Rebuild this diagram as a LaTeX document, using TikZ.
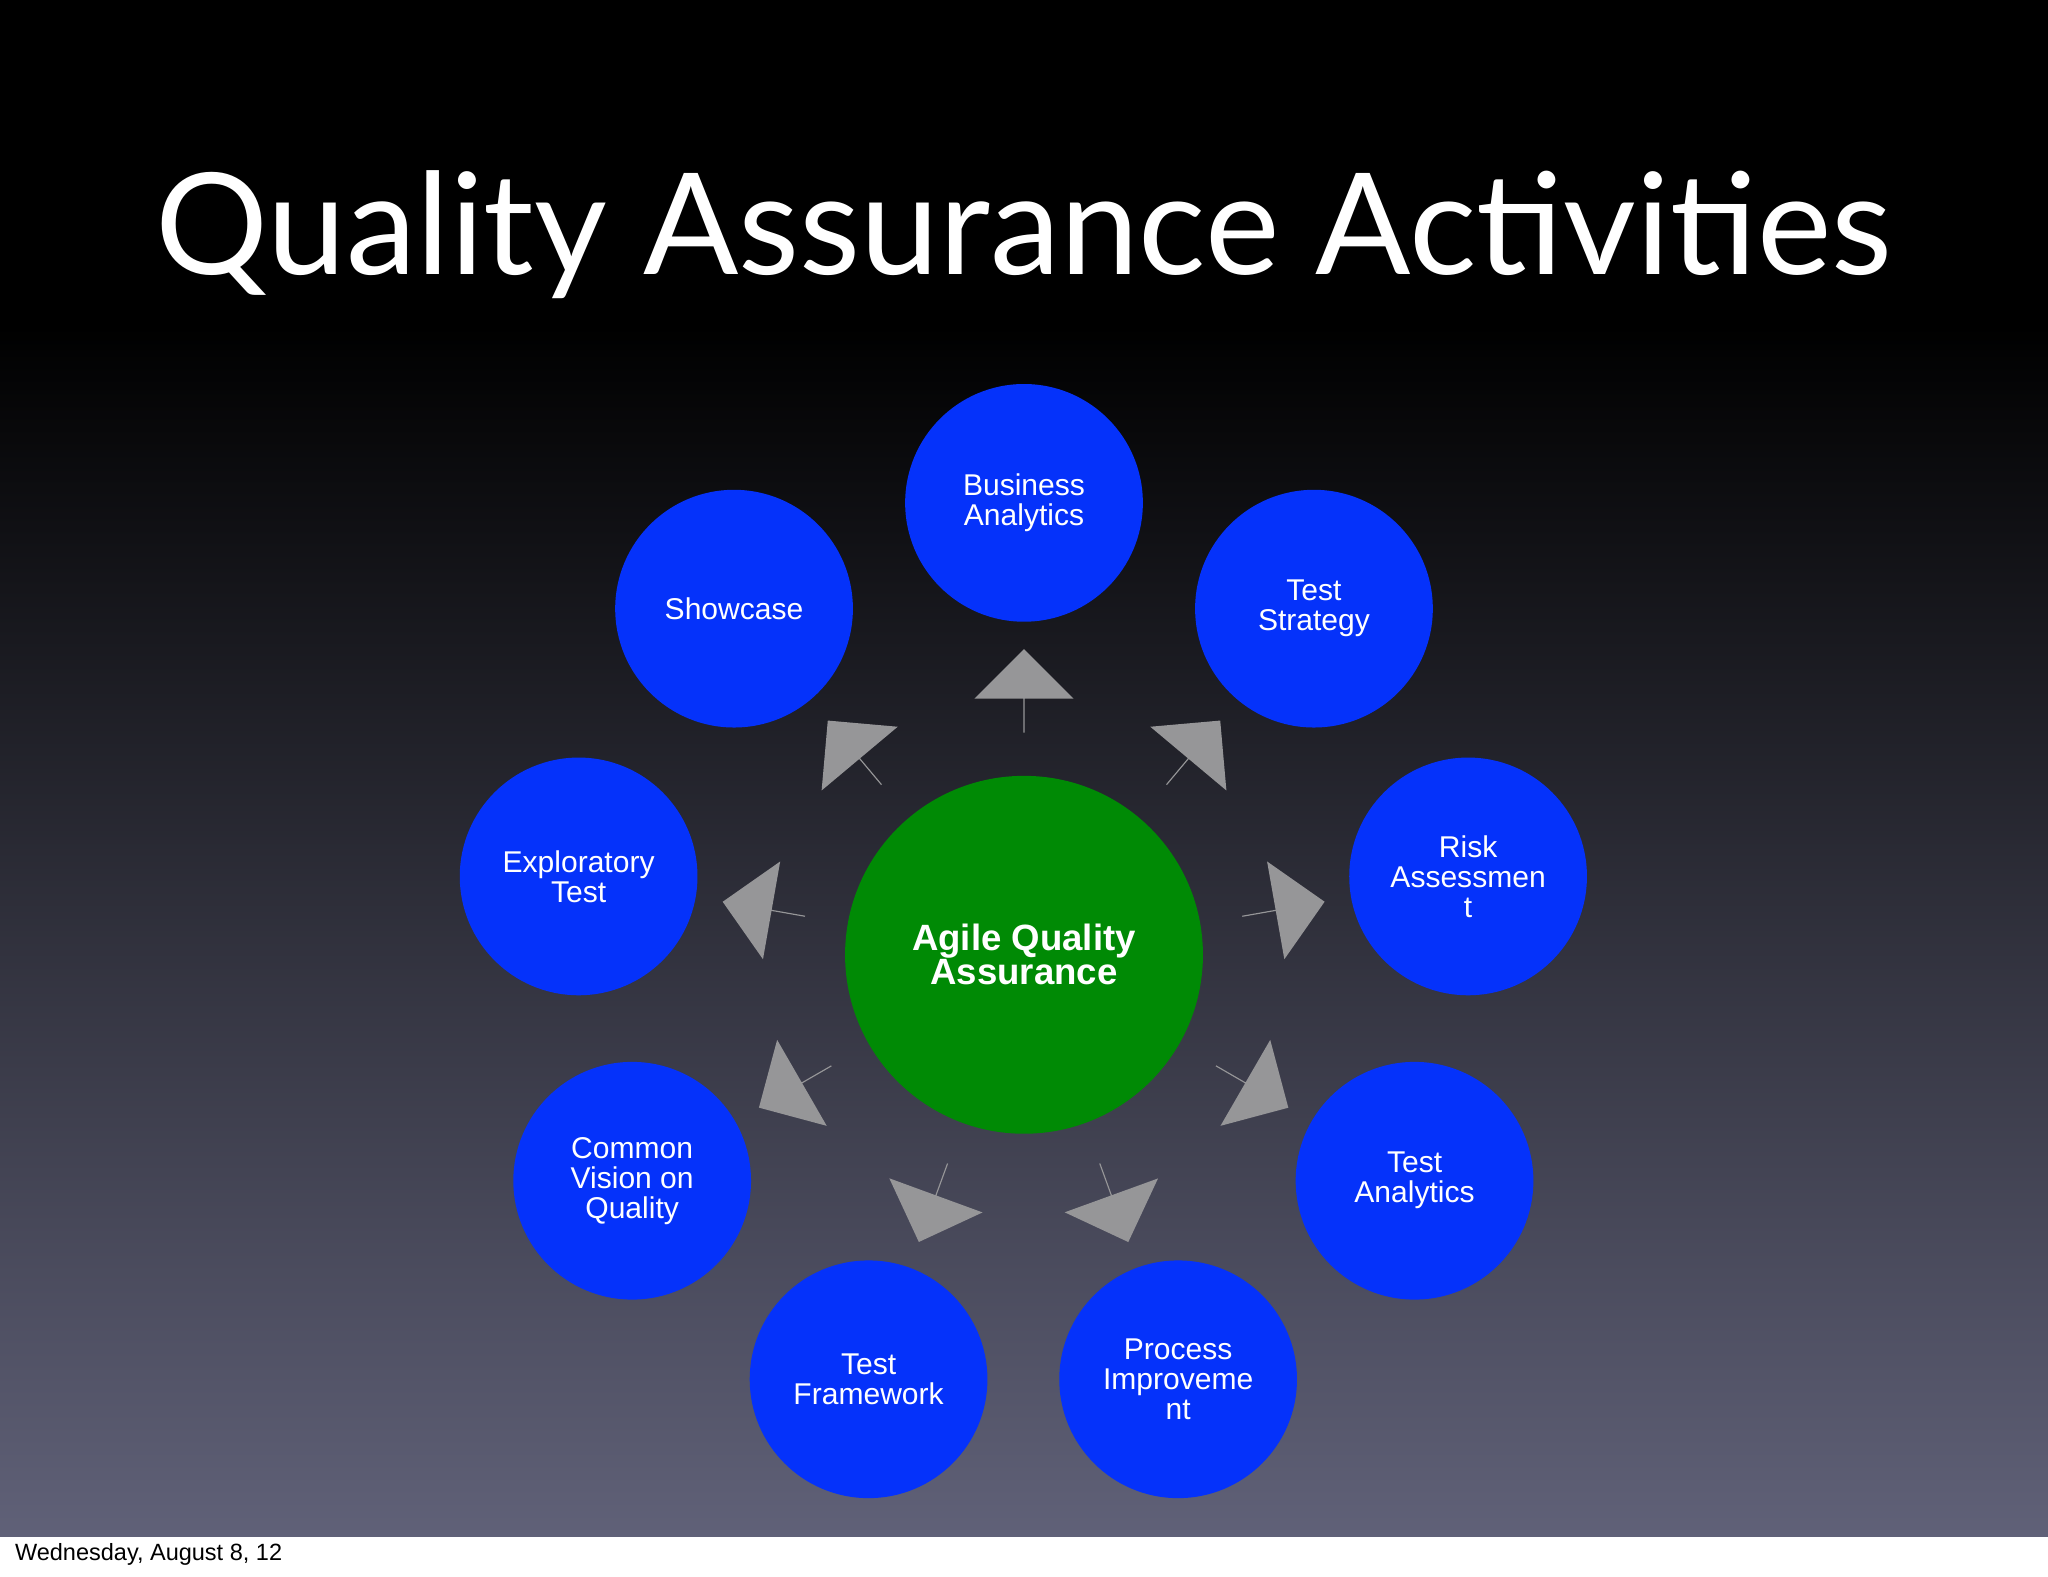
\documentclass[tikz,border=0pt]{standalone}
\usepackage{fontspec}
\setmainfont{Liberation Sans}
\newfontfamily\titlefont{Lato}
\usetikzlibrary{shapes.arrows}
\definecolor{cblue}{RGB}{5,50,250}
\definecolor{cgreen}{RGB}{0,138,5}
\definecolor{bgbot}{RGB}{96,97,120}
\definecolor{agray}{RGB}{150,150,152}
\begin{document}
\begin{tikzpicture}[x=1pt,y=-1pt,
  bub/.style={circle,fill=cblue,minimum size=182pt,inner sep=0pt,text=white,align=center,font=\fontsize{23}{23}\selectfont},
  arr/.style={single arrow,fill=agray,minimum height=64pt,minimum width=76pt,single arrow head extend=17pt,single arrow head indent=0pt,inner sep=0pt,sloped,allow upside down}]
\useasboundingbox (0,0) rectangle (1568,1207);
\fill[white] (0,0) rectangle (1568,1207);
\fill[black] (0,0) rectangle (1568,250);
\shade[top color=black,bottom color=bgbot] (0,249) rectangle (1568,1176);
\node[text=white,font=\titlefont\fontsize{108}{108}\selectfont] (title) at (784,180) {Quality Assurance Activities};
\node[anchor=west,font=\fontsize{18}{18}\selectfont] (date) at (8,1190) {Wednesday, August 8, 12};
\node[circle,fill=cgreen,minimum size=274pt,inner sep=0pt,text=white,align=center,font=\bfseries\fontsize{28}{26}\selectfont] (c) at (784,731) {Agile Quality\\Assurance};
\node[bub] (ba) at (784,385) {Business\\Analytics};
\node[bub] (sc) at (562,466) {Showcase};
\node[bub] (ts) at (1006,466) {Test\\Strategy};
\node[bub] (et) at (443,671) {Exploratory\\Test};
\node[bub] (ra) at (1124,671) {Risk\\Assessmen\\t};
\node[bub] (cv) at (484,904) {Common\\Vision on\\Quality};
\node[bub] (ta) at (1083,904) {Test\\Analytics};
\node[bub] (tf) at (665,1056) {Test\\Framework};
\node[bub] (pi) at (902,1056) {Process\\Improveme\\nt};
\foreach \t/\n in {ba/a1,sc/a2,ts/a3,et/a4,ra/a5,cv/a6,ta/a7,tf/a8,pi/a9}
  \path (c) -- (\t) node[arr,pos=0.55] (\n) {};
\end{tikzpicture}
\end{document}
